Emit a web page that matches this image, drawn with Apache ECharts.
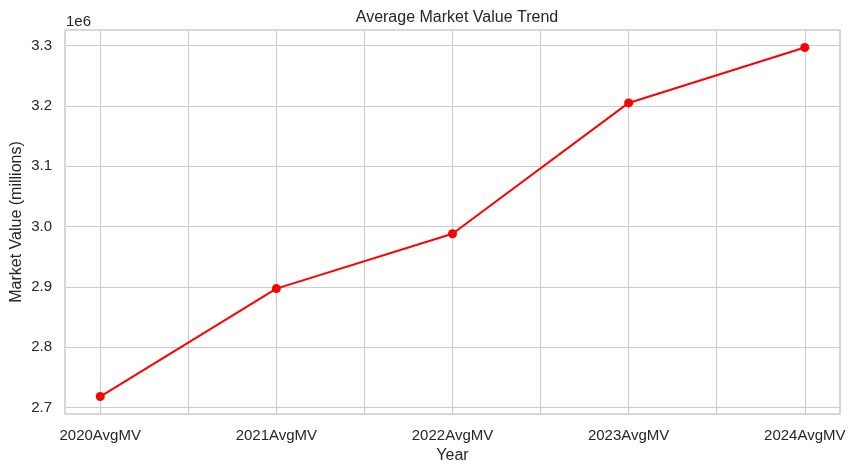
<!DOCTYPE html>
<html>
<head>
<meta charset="utf-8">
<script src="https://cdn.jsdelivr.net/npm/echarts@6/dist/echarts.min.js"></script>
<style>html,body{margin:0;padding:0;background:#fff}#c{width:856px;height:473px}</style>
</head>
<body>
<div id="c"></div>
<script>
const categories = ['2020AvgMV', '2021AvgMV', '2022AvgMV', '2023AvgMV', '2024AvgMV'];
const values = [2718000, 2897000, 2988000, 3205000, 3297000];
const yTicks = [2700000, 2800000, 2900000, 3000000, 3100000, 3200000, 3300000];
const xGridTicks = [0, 0.5, 1, 1.5, 2, 2.5, 3, 3.5, 4];
const xLabelTicks = [0, 1, 2, 3, 4];

const FONT = 'Liberation Sans, Arial, sans-serif';
const vmin = Math.min(...values), vmax = Math.max(...values);
const pad = (vmax - vmin) * 0.05;
const n = categories.length;

const chart = echarts.init(document.getElementById('c'), null, {renderer: 'canvas'});
chart.setOption({
  animation: false,
  backgroundColor: '#ffffff',
  title: {
    text: 'Average Market Value Trend',
    left: 452, top: 5, textAlign: 'center',
    textStyle: {fontFamily: FONT, fontSize: 16, fontWeight: 'normal', color: '#262626'}
  },
  graphic: [{
    type: 'text', left: 66, top: 14,
    style: {text: '1e6', font: '15px ' + FONT, fill: '#262626'}
  }, {
    type: 'text', x: 17, y: 222, rotation: Math.PI / 2,
    style: {text: 'Market Value (millions)', font: '16px ' + FONT, fill: '#262626',
            align: 'center', verticalAlign: 'middle'}
  }],
  grid: {
    left: 65, right: 16, top: 30, bottom: 59,
    containLabel: false, outerBoundsMode: 'none',
    show: true, borderColor: '#cccccc', borderWidth: 1.5, backgroundColor: '#ffffff'
  },
  xAxis: {
    type: 'value',
    min: -(n - 1) * 0.05, max: (n - 1) * 1.05,
    name: 'Year', nameLocation: 'middle', nameGap: 32,
    nameTextStyle: {fontFamily: FONT, fontSize: 16, color: '#262626'},
    axisLine: {show: false},
    axisTick: {show: false, customValues: xGridTicks},
    axisLabel: {
      customValues: xLabelTicks, margin: 14,
      fontFamily: FONT, fontSize: 15, color: '#262626',
      formatter: v => categories[Math.round(v)] || ''
    },
    splitLine: {show: true, lineStyle: {color: '#cccccc', width: 1.1}}
  },
  yAxis: {
    type: 'value',
    min: vmin - pad, max: vmax + pad,
    axisLine: {show: false},
    axisTick: {show: false, customValues: yTicks},
    axisLabel: {
      customValues: yTicks, margin: 13,
      fontFamily: FONT, fontSize: 15, color: '#262626',
      formatter: v => (v / 1e6).toFixed(1)
    },
    splitLine: {show: true, lineStyle: {color: '#cccccc', width: 1.1}}
  },
  series: [{
    type: 'line',
    data: values.map((v, i) => [i, v]),
    symbol: 'circle', symbolSize: 9,
    lineStyle: {color: '#ff0000', width: 2},
    itemStyle: {color: '#ff0000'},
    z: 5
  }]
});
</script>
</body>
</html>
